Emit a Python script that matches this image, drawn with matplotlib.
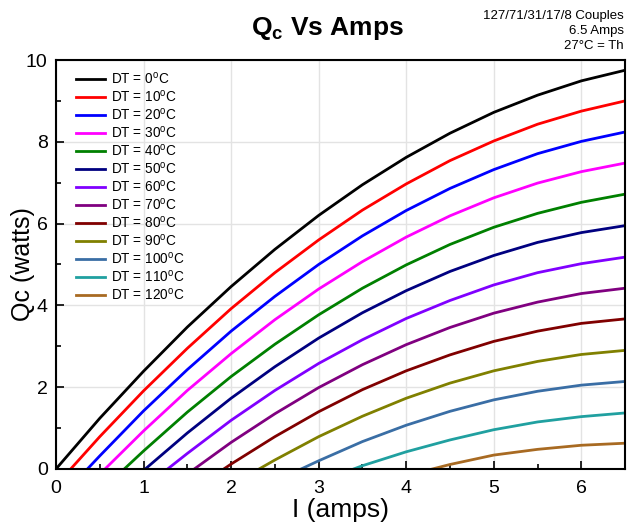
import matplotlib
matplotlib.use("Agg")
import matplotlib.pyplot as plt
from matplotlib.ticker import MultipleLocator

plt.rcParams['font.family'] = ['Liberation Sans', 'DejaVu Sans']

# current (amps) and cooling power (watts)
dt_labels = [0, 10, 20, 30, 40, 50, 60, 70, 80, 90, 100, 110, 120]
colors = ['#000000', '#FF0000', '#0000FF', '#FF00FF', '#008000', '#000080',
          '#8000FF', '#800080', '#800000', '#808000', '#3A6EA5', '#20A0A0', '#A86A22']

I0 = [0, 0.5, 1, 1.5, 2, 2.5, 3, 3.5, 4, 4.5, 5, 5.5, 6, 6.5]
Q0 = [0, 1.24, 2.39, 3.47, 4.46, 5.37, 6.20, 6.95, 7.62, 8.21, 8.72, 9.14, 9.49, 9.75]

I10 = [0.168, 0.5, 1, 1.5, 2, 2.5, 3, 3.5, 4, 4.5, 5, 5.5, 6, 6.5]
Q10 = [0, 0.79, 1.91, 2.95, 3.92, 4.80, 5.60, 6.33, 6.97, 7.54, 8.02, 8.43, 8.75, 9.00]

I20 = [0.359, 0.5, 1, 1.5, 2, 2.5, 3, 3.5, 4, 4.5, 5, 5.5, 6, 6.5]
Q20 = [0, 0.32, 1.42, 2.43, 3.37, 4.22, 5.00, 5.70, 6.32, 6.86, 7.32, 7.71, 8.01, 8.24]

I30 = [0.56, 1, 1.5, 2, 2.5, 3, 3.5, 4, 4.5, 5, 5.5, 6, 6.5]
Q30 = [0, 0.93, 1.92, 2.82, 3.65, 4.40, 5.07, 5.67, 6.19, 6.63, 6.99, 7.27, 7.48]

I40 = [0.78, 1, 1.5, 2, 2.5, 3, 3.5, 4, 4.5, 5, 5.5, 6, 6.5]
Q40 = [0, 0.44, 1.39, 2.26, 3.05, 3.77, 4.42, 4.99, 5.49, 5.91, 6.25, 6.52, 6.72]

I50 = [1.02, 1.5, 2, 2.5, 3, 3.5, 4, 4.5, 5, 5.5, 6, 6.5]
Q50 = [0, 0.88, 1.73, 2.50, 3.20, 3.82, 4.36, 4.83, 5.22, 5.54, 5.78, 5.95]

I60 = [1.275, 1.5, 2, 2.5, 3, 3.5, 4, 4.5, 5, 5.5, 6, 6.5]
Q60 = [0, 0.38, 1.19, 1.92, 2.58, 3.16, 3.68, 4.12, 4.50, 4.80, 5.02, 5.18]

I70 = [1.58, 2, 2.5, 3, 3.5, 4, 4.5, 5, 5.5, 6, 6.5]
Q70 = [0, 0.65, 1.35, 1.99, 2.55, 3.04, 3.46, 3.81, 4.08, 4.29, 4.42]

I80 = [1.917, 2, 2.5, 3, 3.5, 4, 4.5, 5, 5.5, 6, 6.5]
Q80 = [0, 0.12, 0.79, 1.40, 1.94, 2.40, 2.79, 3.12, 3.37, 3.56, 3.67]

I90 = [2.32, 2.5, 3, 3.5, 4, 4.5, 5, 5.5, 6, 6.5]
Q90 = [0, 0.22, 0.79, 1.29, 1.73, 2.10, 2.40, 2.63, 2.80, 2.90]

I100 = [2.80, 3, 3.5, 4, 4.5, 5, 5.5, 6, 6.5]
Q100 = [0, 0.20, 0.67, 1.07, 1.41, 1.69, 1.90, 2.05, 2.14]

I110 = [3.40, 3.5, 4, 4.5, 5, 5.5, 6, 6.5]
Q110 = [0, 0.08, 0.42, 0.71, 0.96, 1.15, 1.28, 1.37]

I120 = [4.30, 4.5, 5, 5.5, 6, 6.5]
Q120 = [0, 0.11, 0.34, 0.48, 0.58, 0.63]

currents = [I0, I10, I20, I30, I40, I50, I60, I70, I80, I90, I100, I110, I120]
powers = [Q0, Q10, Q20, Q30, Q40, Q50, Q60, Q70, Q80, Q90, Q100, Q110, Q120]

fig = plt.figure(figsize=(6.27, 5.31), dpi=100)
ax = fig.add_axes([0.0893, 0.1168, 0.9077, 0.7702])

for dt, c, x, y in zip(dt_labels, colors, currents, powers):
    ax.plot(x, y, color=c, lw=2.0, label='DT = %d$^\\mathregular{o}$C' % dt)

ax.set_xlim(0, 6.5)
ax.set_ylim(0, 10)
ax.xaxis.set_major_locator(MultipleLocator(1))
ax.xaxis.set_minor_locator(MultipleLocator(0.5))
ax.yaxis.set_major_locator(MultipleLocator(2))
ax.yaxis.set_minor_locator(MultipleLocator(1))
ax.tick_params(which='both', direction='in', top=False, right=False, width=1.2)
ax.tick_params(which='major', length=6, labelsize=14)
ax.tick_params(axis='x', which='major', pad=8)
ax.tick_params(axis='y', which='major', pad=6)
ax.tick_params(which='minor', length=3.5)
ax.grid(True, which='major', color='#e3e3e3', lw=1)
ax.set_axisbelow(True)
for s in ax.spines.values():
    s.set_linewidth(1.5)

ax.set_xlabel('I (amps)', fontsize=19, labelpad=1)
ax.set_ylabel('Qc (watts)', fontsize=18, va='center')
ax.yaxis.set_label_coords(-0.058, 0.5)

ax.legend(loc='upper left', bbox_to_anchor=(0.012, 1.008), frameon=False,
          fontsize=9.8, handlelength=2.1, labelspacing=0.15, borderaxespad=0.6,
          handletextpad=0.45)

fig.text(0.523, 0.947, 'Q$_\\mathregular{c}$ Vs Amps', fontsize=19, fontweight='bold',
         ha='center', va='center')
fig.text(0.995, 0.982, '127/71/31/17/8 Couples\n6.5 Amps\n27\u00b0C = Th', fontsize=9.5,
         ha='right', va='top', linespacing=1.35)

fig.savefig('out.png', dpi=100)
